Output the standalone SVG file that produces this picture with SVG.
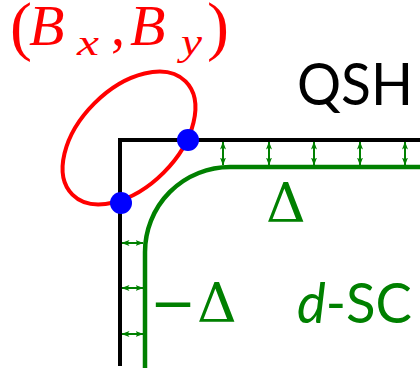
<svg xmlns="http://www.w3.org/2000/svg" width="420" height="373" viewBox="0 0 420 373">
<defs>
<marker id="ah" markerUnits="userSpaceOnUse" markerWidth="8" markerHeight="7" refX="7.5" refY="3.5" orient="auto-start-reverse">
<path d="M0,0.5 L8,3.5 L0,6.5 L2,3.5 z" fill="#008000"/>
</marker>
</defs>
<style>
.blk{fill:none;stroke:#000;stroke-width:4}
.sc{fill:none;stroke:#008000;stroke-width:4.5}
.arr{stroke:#008000;stroke-width:2;marker-start:url(#ah);marker-end:url(#ah)}
.math{font-family:"Liberation Serif",serif}
.delta{font-family:"DejaVu Serif",serif}
.sans{font-family:Lato,"Liberation Sans",sans-serif}
</style>
<rect width="420" height="373" fill="#fff"/>
<g id="qsh-edge">
<path class="blk" d="M120,366 V140 H420"/>
</g>
<g id="sc-edge">
<path class="sc" d="M145,368 V252 A85,85 0 0 1 230,167 H420"/>
</g>
<g id="connectors">
<line class="arr" x1="223" y1="142" x2="223" y2="165"/>
<line class="arr" x1="269" y1="142" x2="269" y2="165"/>
<line class="arr" x1="314" y1="142" x2="314" y2="165"/>
<line class="arr" x1="360" y1="142" x2="360" y2="165"/>
<line class="arr" x1="405" y1="142" x2="405" y2="165"/>
<line class="arr" x1="122" y1="243" x2="143" y2="243"/>
<line class="arr" x1="122" y1="288" x2="143" y2="288"/>
<line class="arr" x1="122" y1="334" x2="143" y2="334"/>
</g>
<g id="field-loop">
<ellipse cx="129" cy="138" rx="80" ry="49" transform="rotate(-45 129 138)" fill="none" stroke="#ff0000" stroke-width="4"/>
</g>
<g id="dots">
<circle cx="188" cy="140" r="11" fill="#0000ff"/>
<circle cx="121" cy="203" r="11" fill="#0000ff"/>
</g>
<g id="labels">
<g class="math" fill="#ff0000">
<text x="10" y="48" font-size="66">(</text>
<text x="29" y="45" font-size="58" font-style="italic">B</text>
<text x="77" y="55" font-size="36" font-style="italic" textLength="22" lengthAdjust="spacingAndGlyphs">x</text>
<text x="111" y="45" font-size="56">,</text>
<text x="130" y="45" font-size="58" font-style="italic">B</text>
<text x="181" y="55" font-size="37" font-style="italic" textLength="21" lengthAdjust="spacingAndGlyphs">y</text>
<text x="207" y="48" font-size="66">)</text>
</g>
<text class="sans" x="297" y="105" font-size="59" fill="#000" textLength="116" lengthAdjust="spacingAndGlyphs">QSH</text>
<text class="delta" x="266" y="222" font-size="55" fill="#008000">Δ</text>
<text class="delta" y="322" font-size="55" fill="#008000"><tspan x="150">−</tspan><tspan x="197">Δ</tspan></text>
<text class="sans" x="297" y="323" font-size="56" fill="#008000" textLength="115" lengthAdjust="spacingAndGlyphs"><tspan font-style="italic">d</tspan>-SC</text>
</g>
</svg>
